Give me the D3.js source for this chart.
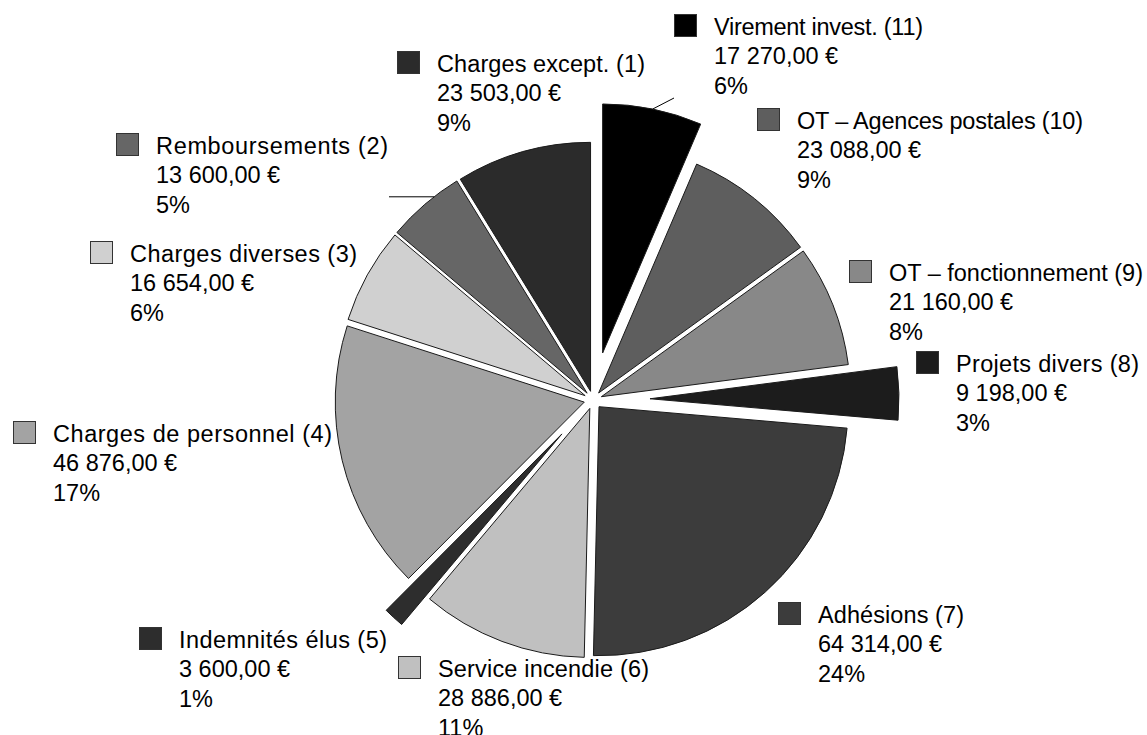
<!DOCTYPE html>
<meta charset="utf-8">
<style>
body { margin: 0; background: #fff; }
.slices path { stroke: #1a1a1a; stroke-width: 1; stroke-linejoin: round; }
.caption { font-family: "Liberation Sans", Arial, sans-serif; font-size: 23.5px; fill: #000; }
.key { stroke: #333; stroke-width: 1; }
.leader { stroke: #000; stroke-width: 1; }
</style>
<body>
<script src="https://d3js.org/d3.v7.min.js"></script>
<script>

var width = 1147,
    height = 735;

// data, in series order (1) .. (11)
var categories = ["Charges except. (1)", "Remboursements (2)", "Charges diverses (3)",
  "Charges de personnel (4)", "Indemnités élus (5)", "Service incendie (6)", "Adhésions (7)",
  "Projets divers (8)", "OT – fonctionnement (9)", "OT – Agences postales (10)", "Virement invest. (11)"];
var values = [23503, 13600, 16654, 46876, 3600, 28886, 64314, 9198, 21160, 23088, 17270];
var colors = ["#2b2b2b", "#666666", "#d0d0d0", "#a3a3a3", "#2d2d2d", "#c0c0c0",
  "#3c3c3c", "#1c1c1c", "#888888", "#5e5e5e", "#000000"];

// how far each slice is pulled out of the pie
var explode = [9, 9, 9, 9, 46, 9, 9, 57, 9, 9, 48];
// where the key square of each label sits (left x, text baseline)
var labelPos = [[397, 72], [116, 154], [90, 262], [13, 442], [139, 648], [398, 677],
  [778, 623], [916, 372], [849, 281], [757, 129], [674, 35]];
// width the first line of each label takes
var titleWidth = [208, 232, 227, 279, 208, 211, 146, 183, 254, 286, 209];

var cx = 593, cy = 400, radius = 249;

var locale = d3.formatLocale({decimal: ",", thousands: " ", grouping: [3], currency: ["", " €"]});
var money = locale.format(",.2f");
var total = d3.sum(values);

var svg = d3.select("body").append("svg")
    .attr("width", width)
    .attr("height", height);

var pie = d3.pie()
    .sort(null)
    .startAngle(0)
    .endAngle(-2 * Math.PI)
    .value(function(d) { return d; });

var arc = d3.arc().innerRadius(0).outerRadius(radius);

var arcs = pie(values);

function offset(d, r) {
  var a = (d.startAngle + d.endAngle) / 2;
  return [Math.sin(a) * r, -Math.cos(a) * r];
}

var g = svg.append("g")
    .attr("class", "slices")
    .attr("transform", "translate(" + cx + "," + cy + ")");

g.selectAll("path")
    .data(arcs)
  .enter().append("path")
    .attr("d", arc)
    .attr("transform", function(d, i) {
      var o = offset(d, explode[i]);
      return "translate(" + o[0] + "," + o[1] + ")";
    })
    .style("fill", function(d, i) { return colors[i]; });

// leader for (2): horizontal, meets the slice's rim a bit above its middle
var s2 = arcs[1], o2 = offset(s2, explode[1]);
var a2 = s2.startAngle + (s2.endAngle - s2.startAngle) * 0.35;
var rim2 = [cx + o2[0] + Math.sin(a2) * radius, cy + o2[1] - Math.cos(a2) * radius];
svg.append("line")
    .attr("class", "leader")
    .attr("x1", rim2[0]).attr("y1", rim2[1])
    .attr("x2", 389).attr("y2", rim2[1]);

var lead11 = offset(arcs[10], explode[10] + radius);
svg.append("line")
    .attr("class", "leader")
    .attr("x1", cx + lead11[0]).attr("y1", cy + lead11[1])
    .attr("x2", 674).attr("y2", 98);

var legend = svg.selectAll("g.legend")
    .data(arcs)
  .enter().append("g")
    .attr("class", "legend")
    .attr("transform", function(d, i) { return "translate(" + labelPos[i][0] + "," + labelPos[i][1] + ")"; });

legend.append("rect")
    .attr("class", "key")
    .attr("x", 0.5)
    .attr("y", -20.5)
    .attr("width", 22)
    .attr("height", 22)
    .style("fill", function(d, i) { return colors[i]; });

legend.each(function(d, i) {
  var lines = [categories[i], money(values[i]) + " €", Math.round(values[i] / total * 100) + "%"];
  d3.select(this).selectAll("text")
      .data(lines)
    .enter().append("text")
      .attr("class", "caption")
      .attr("x", 40)
      .attr("y", function(t, j) { return j * 29.3; })
      .attr("textLength", function(t, j) { return j === 0 ? titleWidth[i] : null; })
      .attr("lengthAdjust", "spacing")
      .text(function(t) { return t; });
});

</script>
